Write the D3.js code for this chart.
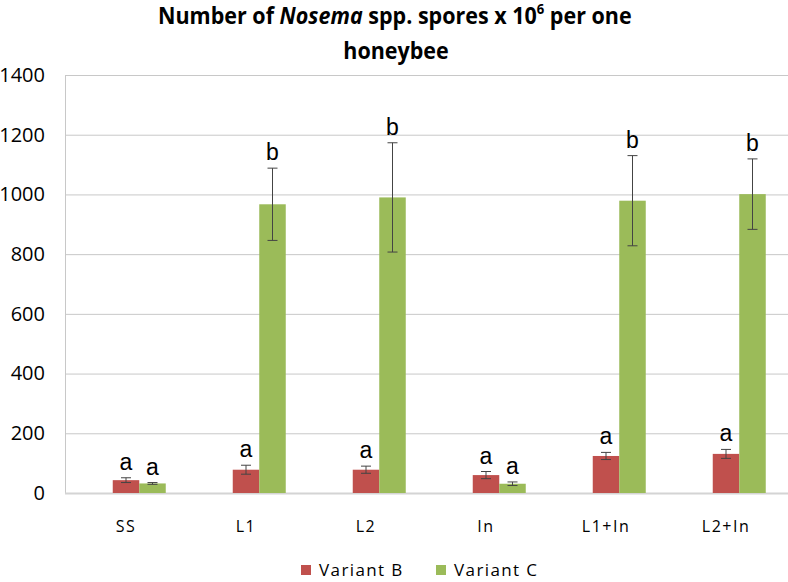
<!DOCTYPE html>
<html>
<head>
<meta charset="utf-8">
<script src="https://cdn.jsdelivr.net/npm/d3@7"></script>
<style>
body { margin: 0; background: #fff; }
</style>
</head>
<body>
<svg id="chart" width="788" height="582"></svg>
<script>
// values
const categories = ["SS", "L1", "L2", "In", "L1+In", "L2+In"];
// the original has an empty first series slot, so the bars sit right of the label
const series = ["", "Variant B", "Variant C"];
const variantB = [43, 78, 78, 60, 124, 131];
const variantBErr = [8, 15, 12, 12, 12, 15];
const variantBLetters = ["a", "a", "a", "a", "a", "a"];
const variantC = [32, 967, 990, 31, 979, 1001];
const variantCErr = [3, 121, 183, 6, 151, 118];
const variantCLetters = ["a", "b", "b", "a", "b", "b"];
const yTicks = [0, 200, 400, 600, 800, 1000, 1200, 1400];
const colors = { "Variant B": "#c0504d", "Variant C": "#9bbb59" };

// rows per bar
let rows = [];
for (let i = 0; i < categories.length; i++) {
    rows.push({ cat: categories[i], s: "Variant B", v: variantB[i], e: variantBErr[i], l: variantBLetters[i] });
    rows.push({ cat: categories[i], s: "Variant C", v: variantC[i], e: variantCErr[i], l: variantCLetters[i] });
}

const svg = d3.select("#chart");

//schalen
const x = d3.scaleBand()
    .domain(categories)
    .range([66, 786])
    .paddingInner(0.3375)
    .paddingOuter(0.16875);

const xs = d3.scaleBand()
    .domain(series)
    .range([0, x.bandwidth()]);

const y = d3.scaleLinear()
    .domain([0, 1400])
    .range([493, 75]);

// y axis + gridlines
const yAxis = svg.append("g")
    .attr("transform", "translate(65,0)")
    .call(d3.axisLeft(y).tickValues(yTicks).tickFormat(d3.format("d"))
        .tickSizeInner(-723).tickSizeOuter(0).tickPadding(20));
yAxis.select(".domain").attr("stroke", "#c8c8c8");
yAxis.selectAll(".tick line").attr("stroke", "#c8c8c8");
yAxis.selectAll(".tick text")
    .attr("fill", "#000")
    .style("font-family", "'Open Sans', sans-serif")
    .style("font-size", "20px");

// baseline
svg.append("line")
    .attr("x1", 65).attr("x2", 788)
    .attr("y1", y(0) + 0.5).attr("y2", y(0) + 0.5)
    .attr("stroke", "#d4d4d4")
    .attr("stroke-width", 2);

// x labels
const xAxis = svg.append("g")
    .attr("transform", "translate(0," + y(0) + ")")
    .call(d3.axisBottom(x).tickSize(0).tickPadding(28));
xAxis.select(".domain").remove();
xAxis.selectAll(".tick text")
    .attr("fill", "#000")
    .style("font-family", "'Open Sans', sans-serif")
    .style("font-size", "16px")
    .style("letter-spacing", "1.5px");

// bars
svg.append("g")
    .selectAll("rect")
    .data(rows)
    .join("rect")
    .attr("x", d => x(d.cat) + xs(d.s))
    .attr("width", xs.bandwidth())
    .attr("y", d => y(d.v))
    .attr("height", d => y(0) - y(d.v))
    .attr("fill", d => colors[d.s]);

// error bars
const err = svg.append("g")
    .attr("stroke", "#444")
    .attr("stroke-width", 1);

err.selectAll("line.stem")
    .data(rows)
    .join("line")
    .attr("class", "stem")
    .attr("x1", d => x(d.cat) + xs(d.s) + xs.bandwidth() / 2)
    .attr("x2", d => x(d.cat) + xs(d.s) + xs.bandwidth() / 2)
    .attr("y1", d => y(d.v + d.e))
    .attr("y2", d => y(d.v - d.e));

err.selectAll("line.captop")
    .data(rows)
    .join("line")
    .attr("class", "captop")
    .attr("x1", d => x(d.cat) + xs(d.s) + xs.bandwidth() / 2 - 5)
    .attr("x2", d => x(d.cat) + xs(d.s) + xs.bandwidth() / 2 + 5)
    .attr("y1", d => y(d.v + d.e))
    .attr("y2", d => y(d.v + d.e));

err.selectAll("line.capbot")
    .data(rows)
    .join("line")
    .attr("class", "capbot")
    .attr("x1", d => x(d.cat) + xs(d.s) + xs.bandwidth() / 2 - 5)
    .attr("x2", d => x(d.cat) + xs(d.s) + xs.bandwidth() / 2 + 5)
    .attr("y1", d => y(d.v - d.e))
    .attr("y2", d => y(d.v - d.e));

// significance letters
svg.append("g")
    .selectAll("text")
    .data(rows)
    .join("text")
    .attr("x", d => x(d.cat) + xs(d.s) + xs.bandwidth() / 2)
    .attr("y", d => y(d.v + d.e) - 8)
    .attr("text-anchor", "middle")
    .style("font-family", "'Liberation Sans', Arial, sans-serif")
    .style("font-size", "23px")
    .text(d => d.l);

// title, squeezed a bit like the condensed original
const t1 = svg.append("text")
    .style("font-family", "'Open Sans', sans-serif")
    .style("font-weight", "bold")
    .style("font-size", "23px");
t1.append("tspan").text("Number of ");
t1.append("tspan").style("font-style", "italic").text("Nosema");
t1.append("tspan").text("  spp. spores x 10");
t1.append("tspan").attr("dy", -10).style("font-size", "14px").text("6");
t1.append("tspan").attr("dy", 10).text(" per one");
const w1 = t1.node().getBBox().width;
const s = 474 / w1;
t1.attr("transform", "translate(158,24) scale(" + s + ",1)");

svg.append("text")
    .attr("text-anchor", "middle")
    .attr("transform", "translate(396,59) scale(" + s + ",1)")
    .style("font-family", "'Open Sans', sans-serif")
    .style("font-weight", "bold")
    .style("font-size", "23px")
    .text("honeybee");

// legend
const legend = svg.append("g")
    .selectAll("g")
    .data(series.slice(1))
    .join("g")
    .attr("transform", (d, i) => "translate(" + (301 + i * 135) + ",565)");
legend.append("rect")
    .attr("width", 10)
    .attr("height", 10)
    .attr("fill", d => colors[d]);
legend.append("text")
    .attr("x", 18)
    .attr("y", 11)
    .style("font-family", "'Open Sans', sans-serif")
    .style("font-size", "17px")
    .style("letter-spacing", "1.4px")
    .text(d => d);
</script>
</body>
</html>
